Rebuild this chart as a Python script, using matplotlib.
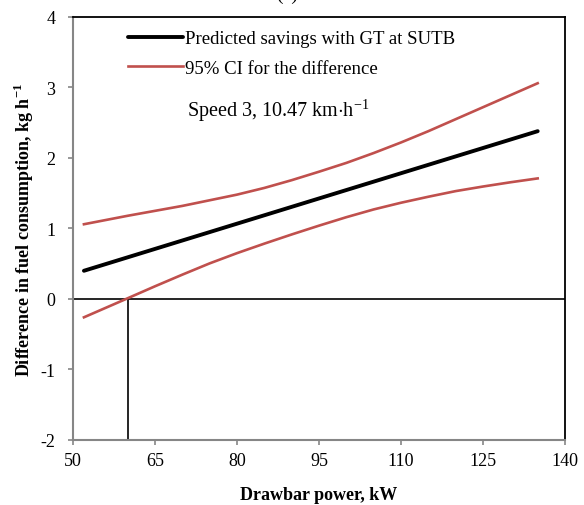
import matplotlib
matplotlib.use("Agg")
import matplotlib.pyplot as plt

plt.rcParams['font.family'] = ['Liberation Serif', 'DejaVu Serif']
plt.rcParams['mathtext.fontset'] = 'custom'
plt.rcParams['mathtext.rm'] = 'Liberation Serif'
plt.rcParams['mathtext.bf'] = 'Liberation Serif:bold'
plt.rcParams['axes.unicode_minus'] = False

# data
power = [52, 60, 65, 70, 75, 80, 85, 90, 95, 100, 105, 110, 115, 120, 125, 130, 135]
upper_ci = [1.06, 1.18, 1.25, 1.32, 1.40, 1.48, 1.575, 1.685, 1.805, 1.93, 2.07, 2.22, 2.38, 2.55, 2.72, 2.89, 3.06]
lower_ci = [-0.26, 0.01, 0.18, 0.345, 0.505, 0.65, 0.785, 0.915, 1.04, 1.16, 1.27, 1.365, 1.45, 1.53, 1.595, 1.655, 1.71]
pred_x = [52, 135]
pred_y = [0.40, 2.38]
break_even = 60

x_ticks = [50, 65, 80, 95, 110, 125, 140]
y_ticks = [-2, -1, 0, 1, 2, 3, 4]

red = '#C0504D'
gray = '#868686'

fig = plt.figure(figsize=(5.84, 5.06), dpi=100)
ax = fig.add_axes([0.125, 0.1285, 0.8425, 0.836])

ax.axhline(0, color='black', lw=1.2, zorder=1)
ax.plot([break_even, break_even], [-2, 0], color='black', lw=1.2, zorder=1)

ax.plot(pred_x, pred_y, color='black', lw=2.8, solid_capstyle='round',
        label='Predicted savings with GT at SUTB', zorder=3)
ax.plot(power, upper_ci, color=red, lw=1.9, label='95% CI for the difference', zorder=2)
ax.plot(power, lower_ci, color=red, lw=1.9, zorder=2)

ax.set_xlim(50, 140)
ax.set_ylim(-2, 4)
ax.set_xticks(x_ticks)
ax.set_yticks(y_ticks)
ax.tick_params(direction='out', length=3.6, width=1.2, color=gray, labelsize=13)
ax.tick_params(axis='y', pad=9)
ax.tick_params(axis='x', pad=5)

for s in ['left', 'bottom']:
    ax.spines[s].set_color(gray)
    ax.spines[s].set_linewidth(1.5)
for s in ['top', 'right']:
    ax.spines[s].set_color('black')
    ax.spines[s].set_linewidth(1.3)

ax.set_xlabel('Drawbar power, kW', fontsize=13, fontweight='bold', labelpad=12)
ax.set_ylabel(r'Difference in fuel consumption, kg h$^{\mathbf{-1}}$', fontsize=13,
              fontweight='bold', labelpad=3)

ax.legend(loc='upper left', bbox_to_anchor=(0.078, 1.009), frameon=False,
          fontsize=13.5, handlelength=2.9, handletextpad=0.12, labelspacing=0.66)

ax.text(0.232, 0.782, r'Speed 3, 10.47 km$\cdot$h$^{-1}$', transform=ax.transAxes,
        fontsize=14.5, va='center', ha='left')

fig.text(0.491, 1.0, '(c)', fontsize=14, ha='center', va='baseline')

fig.savefig('out.png', dpi=100)
